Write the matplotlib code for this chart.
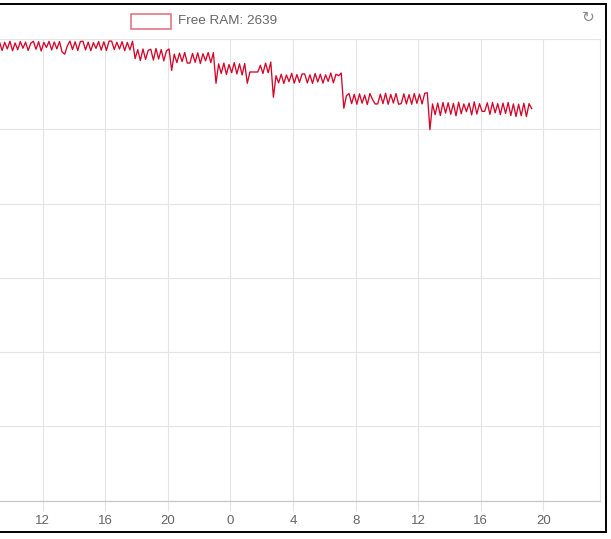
import matplotlib
matplotlib.use("Agg")
import matplotlib.pyplot as plt
import matplotlib.dates as mdates
from matplotlib.lines import Line2D
from matplotlib.patches import Rectangle
import pandas as pd

# ---- data (Free RAM, MB, sampled every 10 minutes) ----
start_time = "2024-01-01 09:15"
sample_freq = "10min"
free_ram = [
    # level A
    3088, 3030, 3085, 3040, 3092, 3028, 3080, 3035, 3090, 3045, 3086, 3030,
    3078, 3092, 3038, 3089, 3026, 3084, 3050, 3091, 3033, 3087, 3040, 3090,
    3020, 3005, 3060, 3093, 3036, 3088, 3030, 3090, 3092, 3034, 3086, 3028,
    3082, 3044, 3090, 3032, 3088, 3030, 3093, 3093, 3036, 3085, 3040, 3089,
    3028, 3084, 3034, 3092,
    # level B
    2975, 3035, 2962, 3040, 2970, 3030, 3038, 2965, 3043, 2972, 3036, 2960,
    3028, 3040,
    # level B2
    2896, 3005, 2948, 3012, 2955, 3016, 2945, 2945, 3010, 2950, 3014, 2942,
    3008, 2960, 3016, 2948, 3015,
    # level C
    2809, 2940, 2875, 2945, 2868, 2935, 2880, 2948, 2872, 2940, 2865, 2942,
    2809, 2885, 2885, 2885, 2885, 2930, 2875, 2945, 2880, 2952,
    # level D
    2715, 2860, 2812, 2870, 2808, 2865, 2820, 2876, 2810, 2868, 2815, 2872,
    2872, 2812, 2866, 2808, 2875, 2818, 2870, 2810, 2866, 2822, 2878, 2812,
    2870, 2860, 2878,
    # level E
    2641, 2725, 2740, 2672, 2735, 2668, 2738, 2675, 2730, 2666, 2740, 2700,
    2670, 2670, 2736, 2672, 2742, 2668, 2734, 2676, 2740, 2668, 2672, 2738,
    2670, 2733, 2668, 2740, 2674, 2736, 2670, 2742, 2745,
    # level F
    2497, 2670, 2598, 2676, 2592, 2680, 2608, 2678, 2600, 2674, 2590, 2682,
    2604, 2670, 2618, 2676, 2596, 2684, 2602, 2672, 2620, 2620, 2678, 2600,
    2680, 2610, 2672, 2598, 2676, 2606, 2680, 2592, 2670, 2585, 2668, 2590,
    2675, 2585, 2672, 2639,
]
legend_label = "Free RAM: 2639"
y_ticks = [0, 500, 1000, 1500, 2000, 2500]
y_max = 3105
x_start = "2024-01-01 09:17"
x_end = "2024-01-02 23:37"

times = pd.date_range(start=start_time, periods=len(free_ram), freq=sample_freq)

W, H = 611, 539
fig = plt.figure(figsize=(W / 100, H / 100), dpi=100)
fig.patch.set_facecolor("white")

ax_left, ax_right, ax_top, ax_bottom = 0, 600, 39.3, 500.7
ax = fig.add_axes([ax_left / W, 1 - ax_bottom / H, (ax_right - ax_left) / W,
                   (ax_bottom - ax_top) / H])

line_color = "#d4062a"
ax.plot(times, free_ram, color=line_color, linewidth=0.95)

ax.set_ylim(0, y_max)
ax.set_xlim(pd.Timestamp(x_start), pd.Timestamp(x_end))

grid_c = "#e4e4e4"
ax.set_yticks(y_ticks + [y_max])
ax.tick_params(axis="y", left=False, labelleft=False)
ax.xaxis.set_major_locator(mdates.HourLocator(byhour=[0, 4, 8, 12, 16, 20]))
ax.xaxis.set_major_formatter(mdates.DateFormatter("%-H"))
ax.tick_params(axis="x", length=7, width=0.8, color=grid_c, pad=3,
               labelcolor="#666666", labelsize=9.5)
for lab in ax.get_xticklabels():
    lab.set_fontfamily("Liberation Sans")
ax.grid(True, color=grid_c, linewidth=0.8)
ax.set_axisbelow(True)

for s in ["left", "top"]:
    ax.spines[s].set_visible(False)
ax.spines["right"].set_color(grid_c)
ax.spines["right"].set_linewidth(0.8)
ax.spines["bottom"].set_color("#c8c8c8")
ax.spines["bottom"].set_linewidth(0.9)

# legend (chart.js style box + label)
fig.patches.append(Rectangle((131 / W, 1 - 28.5 / H), 40 / W, 14 / H,
                             transform=fig.transFigure, facecolor="white",
                             edgecolor="#e26a7a", linewidth=1.1))
fig.text(178 / W, 1 - 20.5 / H, legend_label, fontsize=9.7, color="#666666",
         family="Liberation Sans", va="center", ha="left")

# refresh icon
fig.text(588 / W, 1 - 17 / H, "\u21bb", fontsize=11, color="#8a8a8a",
         family="DejaVu Sans", va="center", ha="center")

# black frame (cropped screenshot border)
frame_kw = dict(transform=fig.transFigure, color="black", linewidth=1.4)
fig.lines.append(Line2D([0, 606 / W], [1 - 4 / H, 1 - 4 / H], **frame_kw))
fig.lines.append(Line2D([606 / W, 606 / W], [1 - 4 / H, 1 - 532 / H], **frame_kw))
fig.lines.append(Line2D([0, 606 / W], [1 - 532 / H, 1 - 532 / H], **frame_kw))

fig.savefig("out.png", dpi=100, facecolor="white")
